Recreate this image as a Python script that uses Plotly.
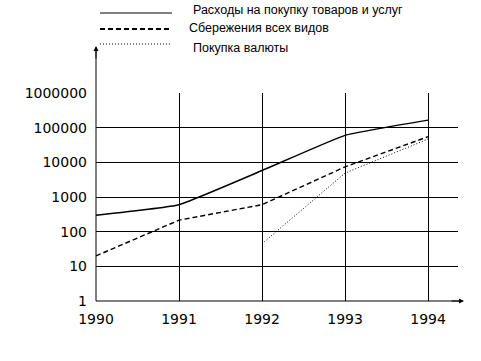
import plotly.graph_objects as go

years = [1990, 1991, 1992, 1993, 1994]
spending = [300, 600, 5800, 60000, 165000]
savings = [20, 215, 600, 7400, 55000]
currency = [None, None, 45, 4900, 47000]

y_ticks = [1, 10, 100, 1000, 10000, 100000, 1000000]
y_labels = ["1", "10", "100", "1000", "10000", "100000", "1000000"]

names = ["Расходы на покупку товаров и услуг", "Сбережения всех видов", "Покупка валюты"]

fig = go.Figure()
fig.add_trace(go.Scatter(x=years, y=spending, mode="lines", name=names[0],
                         line=dict(color="black", width=1.5, shape="spline", smoothing=0.35),
                         showlegend=False))
fig.add_trace(go.Scatter(x=years, y=savings, mode="lines", name=names[1],
                         line=dict(color="black", width=1.4, dash="5px,3px"),
                         showlegend=False))
fig.add_trace(go.Scatter(x=years, y=currency, mode="lines", name=names[2],
                         line=dict(color="black", width=1, dash="1px,2px"),
                         showlegend=False))

W, H = 481, 361
L, R, T, B = 96, 23, 93, 60
pw, ph = W - L - R, H - T - B

def px(x):
    return (x - L) / pw

def py(y):
    return (H - B - y) / ph

shapes = [
    dict(type="line", xref="paper", yref="paper", x0=0, x1=0, y0=0, y1=py(48),
         line=dict(color="black", width=1)),
    dict(type="line", xref="paper", yref="paper", x0=0, x1=px(461), y0=0, y1=0,
         line=dict(color="black", width=1)),
    # legend samples
    dict(type="line", xref="paper", yref="paper", x0=px(100), x1=px(172), y0=py(13), y1=py(13),
         line=dict(color="black", width=1.2)),
    dict(type="line", xref="paper", yref="paper", x0=px(100), x1=px(172), y0=py(29), y1=py(29),
         line=dict(color="black", width=2, dash="5px,3px")),
    dict(type="line", xref="paper", yref="paper", x0=px(100), x1=px(170), y0=py(44), y1=py(44),
         line=dict(color="black", width=1, dash="1px,2px")),
]

font_leg = dict(family="Liberation Sans, Arial", size=12.5, color="black")
annotations = [
    dict(xref="paper", yref="paper", x=0, y=py(46), ax=0, ay=14, showarrow=True,
         arrowhead=2, arrowsize=1, arrowwidth=1, arrowcolor="black", text=""),
    dict(xref="paper", yref="paper", x=px(464), y=0, ax=-14, ay=0, showarrow=True,
         arrowhead=2, arrowsize=1, arrowwidth=1, arrowcolor="black", text=""),
    dict(xref="paper", yref="paper", x=px(191), y=py(10), text=names[0], showarrow=False,
         xanchor="left", yanchor="middle", font=font_leg),
    dict(xref="paper", yref="paper", x=px(187), y=py(28), text=names[1], showarrow=False,
         xanchor="left", yanchor="middle", font=font_leg),
    dict(xref="paper", yref="paper", x=px(191), y=py(48), text=names[2], showarrow=False,
         xanchor="left", yanchor="middle", font=font_leg),
]

tick_font = dict(family="DejaVu Sans", size=14, color="black")
fig.update_layout(
    width=W, height=H,
    margin=dict(l=L, r=R, t=T, b=B, pad=0),
    paper_bgcolor="white", plot_bgcolor="white",
    shapes=shapes, annotations=annotations,
    xaxis=dict(range=[1990, 1994.36], tickvals=years, ticktext=[str(y) for y in years],
               showgrid=True, gridcolor="black", gridwidth=1, zeroline=False,
               showline=False, ticks="", tickfont=tick_font, ticklabelstandoff=8),
    yaxis=dict(type="log", range=[0, 6], tickvals=y_ticks, ticktext=y_labels,
               showgrid=True, gridcolor="black", gridwidth=1, zeroline=False,
               showline=False, ticks="", tickfont=tick_font, ticklabelstandoff=8),
)

fig.write_html("out.html", config={"displayModeBar": False},
               post_script="document.body.style.margin='0';document.body.style.overflow='hidden';")
